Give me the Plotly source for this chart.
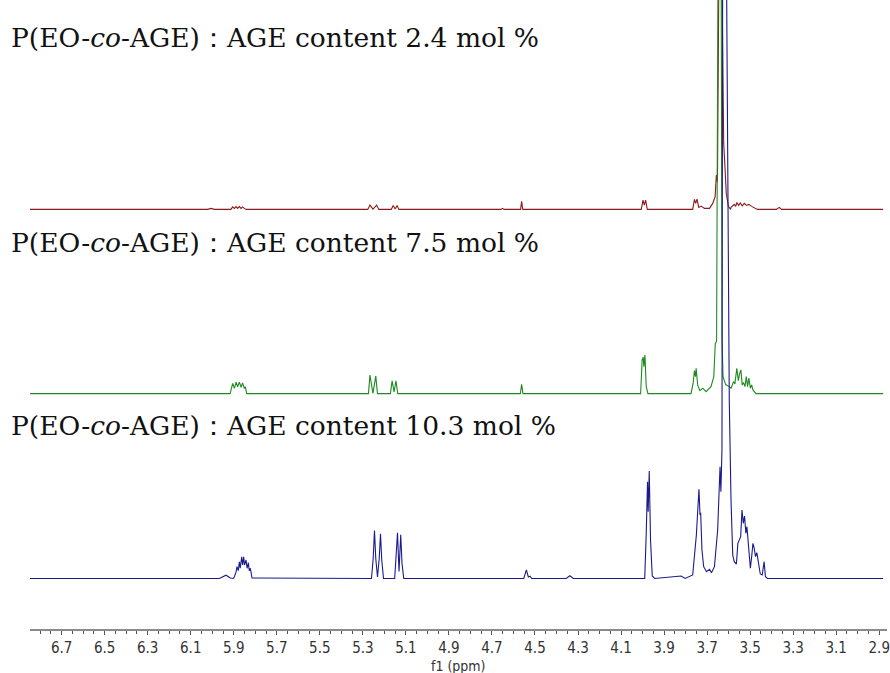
import plotly.graph_objects as go

# ---- data (ppm, intensity) ----
red_ppm = [6.847, 6.022, 6.005, 5.990, 5.913, 5.905, 5.897, 5.889, 5.882, 5.874, 5.866, 5.859, 5.851, 5.843,
           5.277, 5.267, 5.253, 5.236, 5.226, 5.168, 5.159, 5.150, 5.141, 5.133,
           4.658, 4.651, 4.644, 4.567, 4.562, 4.557,
           4.006, 3.998, 3.992, 3.986, 3.978,
           3.767, 3.759, 3.753, 3.747, 3.739, 3.728, 3.712, 3.689, 3.674, 3.663, 3.657, 3.652,
           3.646, 3.637, 3.630, 3.626, 3.623, 3.617, 3.611, 3.601, 3.591,
           3.589, 3.574, 3.567, 3.562, 3.554, 3.546, 3.537, 3.527, 3.517, 3.506, 3.493, 3.481, 3.466,
           3.378, 3.365, 3.354, 2.882]
red_int = [0, 0, 1, 0, 0, 2.5, 1, 2.8, 1, 2.8, 1, 2.5, 1, 0,
           0, 4.3, 0.3, 4.3, 0, 0, 4, 0.5, 4, 0,
           0, 1, 0, 0, 8, 0,
           0, 9.3, 4.3, 9.3, 0,
           0, 10, 6, 10.3, 2, 3.3, 1, 1, 6, 12.6, 34.3, 27.6,
           210, 500, 210, 90, 66, 42, 16, 3, 0,
           2, 5, 3, 7, 4, 6.5, 3.5, 6, 4, 5, 3, 2, 0,
           0, 2, 0, 0]

green_ppm = [6.847, 5.917, 5.905, 5.897, 5.889, 5.882, 5.874, 5.866, 5.859, 5.851, 5.846, 5.840,
             5.274, 5.267, 5.253, 5.240, 5.232, 5.172, 5.164, 5.155, 5.146, 5.138,
             4.568, 4.562, 4.556,
             4.009, 4.002, 3.997, 3.994, 3.989, 3.983, 3.975,
             3.775, 3.765, 3.759, 3.754, 3.751, 3.744, 3.734, 3.720, 3.705, 3.682, 3.669, 3.662, 3.656,
             3.650, 3.642, 3.633, 3.631, 3.626, 3.614, 3.597,
             3.589, 3.577, 3.571, 3.562, 3.555, 3.549, 3.543, 3.537, 3.531, 3.524, 3.518, 3.512, 3.506,
             3.499, 3.493, 3.487, 3.473, 2.882]
green_int = [0, 0, 10.2, 5.2, 11.5, 6.8, 11.5, 6.2, 10.8, 5.2, 6.8, 0,
             0, 18.5, 0.3, 17.5, 0, 0, 12.8, 1.7, 12.8, 0,
             0, 9.3, 0,
             0, 33.7, 36.4, 27, 38.7, 7, 0,
             0, 10.4, 23, 17, 25.4, 8.7, 3, 5.4, 2, 7, 17, 50.4, 52,
             394, 1200, 394, 57, 17, 9, 7,
             5.4, 12, 9.7, 25.4, 13, 19.7, 23.7, 8.7, 11, 7, 17, 7, 15.4,
             5.4, 8.7, 3.7, 0, 0]

blue_ppm = [6.847, 5.967, 5.936, 5.916, 5.902,
            5.897, 5.889, 5.885, 5.879, 5.874, 5.870, 5.863, 5.859, 5.854, 5.850, 5.843, 5.838, 5.832,
            5.828, 5.823, 5.815,
            5.272, 5.260, 5.252, 5.246, 5.240, 5.232, 5.224, 5.218, 5.212, 5.204,
            5.152, 5.145, 5.139, 5.132, 5.124, 5.118, 5.110,
            4.552, 4.540, 4.531, 4.523, 4.515, 4.355, 4.338, 4.322,
            4.021, 3.990, 3.983, 3.977, 3.974, 3.969, 3.963, 3.955, 3.944,
            3.836, 3.821, 3.802, 3.767, 3.750, 3.738, 3.733, 3.730, 3.724, 3.716, 3.703, 3.689,
            3.680, 3.666, 3.651, 3.645, 3.640, 3.636, 3.631,
            3.628, 3.619, 3.609, 3.597, 3.589, 3.581, 3.574, 3.564,
            3.557, 3.550, 3.544, 3.538, 3.532, 3.526, 3.520, 3.515, 3.509, 3.499, 3.493, 3.487,
            3.481, 3.475, 3.469, 3.462, 3.453, 3.444, 3.435, 3.429, 3.419, 2.882]
blue_int = [0, 0, 3.3, 0.5, 0,
            1.8, 6.8, 11.8, 7.8, 16.8, 10.2, 21.8, 13.5, 21.8, 13.5, 18.5, 10.2, 15.8,
            7.8, 10.2, 0.5,
            0, 0, 20, 48, 20, 1.5, 20, 44.7, 18, 0,
            0, 20, 45.7, 7, 43.7, 15, 0,
            0, 8.7, 1.5, 2.3, 0, 0, 2.7, 0,
            0, 0, 45, 96.8, 66.8, 107.5, 38.5, 2.5, 0,
            1.8, 2.5, 0, 3.5, 43.5, 89.2, 63.5, 65.8, 28.5, 11.8, 6.8, 9.2,
            5.8, 11.8, 48.5, 95, 111.8, 86.8, 128.5,
            578.5, 760, 578.5, 178.5, 78.5, 23.5, 16.8, 14.5,
            35.2, 38.5, 41.8, 68.5, 55.2, 62.5, 45.2, 51.8, 35.2, 10.2, 21.8, 35.2,
            30.2, 21.8, 25.8, 15.2, 4.5, 3.5, 16.8, 1.8, 0, 0]

labels = ["P(EO-<i>co</i>-AGE)：AGE content 2.4 mol %",
          "P(EO-<i>co</i>-AGE)：AGE content 7.5 mol %",
          "P(EO-<i>co</i>-AGE)：AGE content 10.3 mol %"]

# vertical stacking offsets (layout)
offsets = [419.6, 235.4, 50.5]
colors = ["#8b1a1a", "#1f8a1f", "#1a1a8c"]
label_y = [0.940, 0.614, 0.324]

fig = go.Figure()
series = [(red_ppm, red_int), (green_ppm, green_int), (blue_ppm, blue_int)]
for (xs, ys), off, col in zip(series, offsets, colors):
    fig.add_trace(go.Scatter(x=xs, y=[v + off for v in ys], mode="lines",
                             line=dict(color=col, width=1.1), hoverinfo="skip"))

for txt, yy in zip(labels, label_y):
    fig.add_annotation(text=txt, xref="paper", yref="paper", x=-0.0245, y=yy,
                       xanchor="left", yanchor="middle", showarrow=False,
                       font=dict(family="DejaVu Serif, Liberation Serif, serif", size=26.5, color="#111"))

tickfont = "Liberation Sans Narrow, DejaVu Sans Condensed, Roboto Condensed, Arial Narrow, Liberation Sans, sans-serif"

# axis title placed just under the tick labels
fig.add_annotation(text="f1 (ppm)", xref="paper", yref="paper", x=0.5, y=-0.0595,
                   xanchor="center", yanchor="middle", showarrow=False,
                   font=dict(family=tickfont, size=14, color="#333"))

fig.update_layout(
    width=890, height=673,
    margin=dict(l=30, r=0, t=0, b=44),
    paper_bgcolor="white", plot_bgcolor="white",
    showlegend=False,
    xaxis=dict(range=[6.847, 2.864], tick0=2.9, dtick=0.2, ticks="outside", ticklen=4,
               tickcolor="#555", tickwidth=1, showgrid=False, zeroline=False,
               showline=True, linecolor="#8a8a8a", linewidth=2,
               tickformat=".1f", ticklabelstandoff=0, ticklabeloverflow="allow",
               tickfont=dict(family=tickfont, size=15, color="#333"),
               minor=dict(dtick=0.05, ticks="outside", ticklen=3, tickcolor="#555", showgrid=False)),
    yaxis=dict(range=[0, 629], visible=False, fixedrange=True),
)

fig.write_html("out.html", config={"displayModeBar": False},
               post_script="document.body.style.margin='0';document.body.style.overflow='hidden';")
